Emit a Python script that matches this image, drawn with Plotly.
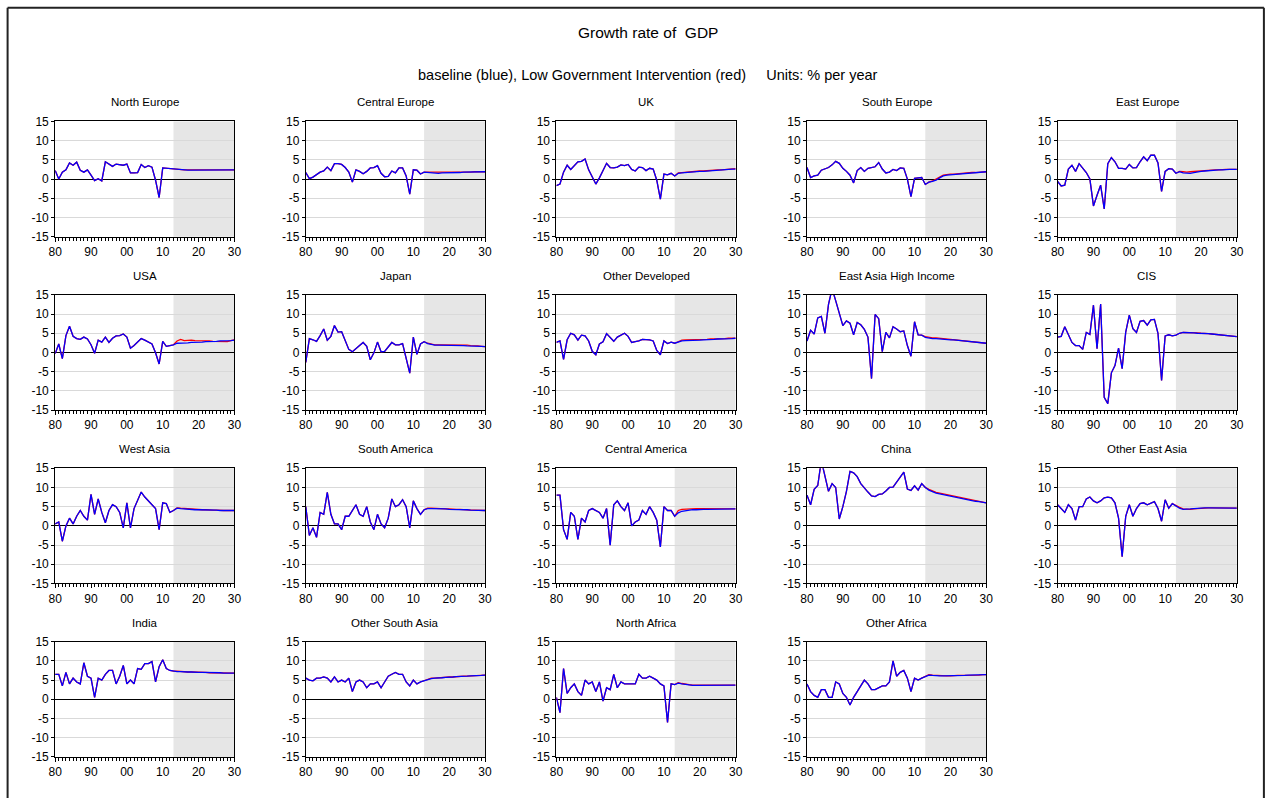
import plotly.graph_objects as go

# ---------------------------------------------------------------------------
# Annual GDP growth, % per year. History 1980-2012, projections 2013-2030.
# ---------------------------------------------------------------------------
years_hist = list(range(1980, 2013))
years_proj = list(range(2013, 2031))

decade_ticks = [1980, 1990, 2000, 2010, 2020, 2030]
decade_labels = ["80", "90", "00", "10", "20", "30"]
value_ticks = [-15, -10, -5, 0, 5, 10, 15]
value_labels = ["-15", "-10", "-5", "0", "5", "10", "15"]

north_europe_hist = [2.2, 0.0, 1.8, 2.4, 4.2, 3.6, 4.4, 2.3, 1.8, 2.4, 1.0, -0.4, 0.1, -0.5, 4.5, 3.9, 3.3,
                     3.9, 3.7, 3.6, 3.9, 1.6, 1.6, 1.7, 3.8, 3.0, 3.5, 3.1, -0.3, -4.8, 2.9, 2.8, 2.7]
north_europe_base = [2.7, 2.5, 2.4, 2.3, 2.3, 2.3, 2.3, 2.3, 2.3, 2.3, 2.4, 2.4, 2.4, 2.4, 2.4, 2.4, 2.4, 2.4]
north_europe_low = [2.7, 2.6, 2.5, 2.4, 2.4, 2.4, 2.4, 2.4, 2.4, 2.4, 2.4, 2.4, 2.4, 2.4, 2.4, 2.4, 2.4, 2.4]

central_europe_hist = [1.7, 0.1, 0.5, 1.2, 1.8, 2.1, 3.1, 2.2, 4.0, 4.0, 3.8, 3.0, 1.8, -0.8, 2.4, 2.0, 1.4,
                       2.0, 2.9, 3.0, 3.5, 1.5, 0.6, 0.7, 2.1, 1.6, 2.9, 2.9, 0.8, -3.9, 2.4, 2.3, 1.3]
central_europe_base = [1.8, 1.7, 1.6, 1.5, 1.5, 1.6, 1.6, 1.6, 1.7, 1.7, 1.7, 1.8, 1.8, 1.8, 1.8, 1.9, 1.9, 1.9]
central_europe_low = [1.8, 1.8, 1.8, 1.7, 1.7, 1.7, 1.7, 1.7, 1.7, 1.8, 1.8, 1.8, 1.8, 1.8, 1.9, 1.9, 1.9, 1.9]

uk_hist = [-1.7, -1.3, 1.8, 3.6, 2.5, 3.5, 4.5, 4.6, 5.2, 2.4, 0.6, -1.3, 0.3, 2.3, 4.1, 3.0, 2.9,
           3.1, 3.7, 3.5, 3.8, 2.5, 2.1, 3.1, 3.0, 2.2, 2.8, 2.6, -0.3, -5.2, 1.3, 1.1, 1.5]
uk_base = [0.8, 1.5, 1.6, 1.7, 1.8, 1.8, 1.9, 2.0, 2.0, 2.1, 2.2, 2.2, 2.3, 2.4, 2.4, 2.5, 2.6, 2.6]
uk_low = [0.8, 1.6, 1.7, 1.8, 1.9, 1.9, 2.0, 2.1, 2.1, 2.2, 2.3, 2.3, 2.4, 2.4, 2.5, 2.5, 2.6, 2.7]

south_europe_hist = [3.0, 0.4, 0.8, 1.0, 2.3, 2.6, 3.0, 3.7, 4.6, 4.1, 2.8, 2.0, 1.0, -1.0, 2.2, 3.0, 2.0,
                     2.8, 3.1, 3.2, 4.3, 2.6, 1.6, 1.8, 2.5, 2.2, 2.9, 2.8, 0.0, -4.6, 0.2, 0.3, 0.4]
south_europe_base = [-1.4, -0.8, -0.6, -0.3, 0.3, 0.8, 1.0, 1.1, 1.2, 1.3, 1.4, 1.5, 1.5, 1.6, 1.7, 1.7, 1.8, 1.9]
south_europe_low = [-1.4, -0.8, -0.5, -0.1, 0.5, 1.0, 1.2, 1.3, 1.3, 1.4, 1.5, 1.5, 1.6, 1.7, 1.7, 1.8, 1.8, 1.9]

east_europe_hist = [-0.6, -1.8, -1.6, 2.6, 3.6, 2.0, 4.0, 2.7, 1.7, 0.0, -7.0, -4.2, -1.6, -7.8, 4.0, 5.6, 4.5,
                    2.8, 2.8, 2.6, 3.8, 2.9, 3.0, 4.5, 5.8, 4.8, 6.2, 6.2, 4.2, -3.2, 2.0, 2.7, 2.6]
east_europe_base = [1.5, 1.9, 1.6, 1.5, 1.5, 1.7, 1.9, 2.0, 2.1, 2.2, 2.3, 2.3, 2.4, 2.4, 2.5, 2.5, 2.5, 2.5]
east_europe_low = [1.5, 2.0, 1.9, 1.8, 1.9, 2.0, 2.1, 2.2, 2.3, 2.3, 2.4, 2.4, 2.4, 2.5, 2.5, 2.5, 2.5, 2.5]

usa_hist = [-0.3, 2.2, -1.6, 4.4, 6.8, 4.2, 3.6, 3.4, 4.0, 3.5, 2.0, -0.2, 3.2, 2.7, 4.0, 2.6, 3.7,
            4.3, 4.4, 4.8, 4.0, 1.1, 1.8, 2.7, 3.6, 3.2, 2.7, 2.2, -0.1, -3.0, 2.9, 1.6, 1.8]
usa_base = [2.0, 2.4, 2.4, 2.5, 2.5, 2.6, 2.6, 2.7, 2.7, 2.8, 2.8, 2.9, 2.9, 3.0, 3.0, 3.0, 3.1, 3.2]
usa_low = [2.0, 3.0, 3.4, 3.1, 3.2, 3.2, 3.1, 3.1, 3.0, 3.0, 3.0, 2.9, 2.9, 2.9, 2.9, 2.8, 3.1, 3.3]

japan_hist = [-2.6, 3.6, 3.3, 2.9, 4.4, 6.1, 3.2, 4.2, 7.0, 5.3, 5.4, 3.2, 0.8, 0.2, 0.9, 1.8, 2.6,
              1.6, -1.9, -0.1, 2.7, 0.2, 0.3, 1.6, 2.6, 2.0, 2.0, 2.3, -1.2, -5.4, 4.0, -0.5, 2.2]
japan_base = [2.8, 2.3, 2.0, 1.9, 1.9, 1.9, 1.9, 1.9, 1.9, 1.8, 1.8, 1.8, 1.7, 1.7, 1.7, 1.6, 1.6, 1.5]
japan_low = [2.8, 2.4, 2.1, 2.0, 2.0, 2.0, 2.0, 2.0, 2.0, 1.9, 1.9, 1.9, 1.9, 1.8, 1.8, 1.7, 1.6, 1.5]

other_developed_hist = [2.6, 3.0, -1.8, 3.3, 5.0, 4.6, 3.2, 4.5, 4.3, 3.0, 0.3, -0.6, 2.2, 2.8, 4.9, 3.8, 2.9,
                        4.0, 4.6, 5.0, 4.2, 2.6, 2.8, 3.0, 3.4, 3.3, 3.3, 3.0, 0.5, -0.6, 3.0, 2.3, 2.7]
other_developed_base = [2.4, 2.8, 3.0, 3.1, 3.1, 3.1, 3.2, 3.2, 3.3, 3.3, 3.4, 3.4, 3.5, 3.5, 3.6, 3.6, 3.6, 3.7]
other_developed_low = [2.4, 2.9, 3.2, 3.3, 3.3, 3.3, 3.3, 3.4, 3.4, 3.4, 3.5, 3.5, 3.5, 3.6, 3.6, 3.7, 3.7, 3.7]

east_asia_hi_hist = [3.0, 5.8, 4.8, 9.0, 9.4, 5.0, 12.5, 16.6, 13.5, 10.5, 7.0, 8.2, 7.6, 4.6, 7.8, 7.2, 6.0,
                     4.0, -6.8, 9.9, 8.8, 0.2, 5.2, 3.8, 6.7, 6.1, 5.4, 5.6, 1.8, -1.0, 8.0, 4.6, 4.5]
east_asia_hi_base = [3.9, 3.7, 3.6, 3.6, 3.5, 3.5, 3.4, 3.3, 3.3, 3.2, 3.1, 3.0, 2.9, 2.8, 2.7, 2.6, 2.5, 2.4]
east_asia_hi_low = [4.1, 3.9, 3.8, 3.8, 3.7, 3.7, 3.6, 3.5, 3.4, 3.3, 3.2, 3.1, 3.0, 2.9, 2.8, 2.7, 2.5, 2.4]

cis_hist = [4.0, 4.2, 6.7, 4.6, 2.6, 1.8, 1.8, 0.8, 5.2, 4.7, 12.3, 1.0, 12.6, -11.7, -13.3, -5.3, -3.4,
            1.1, -4.2, 5.3, 9.7, 6.2, 5.2, 8.1, 8.3, 7.1, 8.5, 8.6, 5.0, -7.3, 4.3, 4.6, 4.3]
cis_base = [4.5, 5.0, 5.2, 5.2, 5.1, 5.1, 5.0, 5.0, 4.9, 4.9, 4.8, 4.7, 4.6, 4.5, 4.4, 4.3, 4.2, 4.1]
cis_low = [4.5, 5.0, 5.2, 5.2, 5.2, 5.1, 5.1, 5.0, 5.0, 4.9, 4.8, 4.7, 4.6, 4.5, 4.4, 4.3, 4.2, 4.1]

west_asia_hist = [0.5, 1.0, -4.0, 0.0, 2.0, 0.5, 2.5, 4.0, 2.5, 1.5, 8.2, 3.0, 7.0, 3.5, 0.8, 4.0, 5.5,
                  5.0, 3.5, -0.5, 6.0, -0.5, 4.5, 6.5, 8.8, 7.5, 6.5, 5.5, 4.5, -1.0, 6.0, 5.8, 3.5]
west_asia_base = [4.0, 4.6, 4.5, 4.4, 4.3, 4.3, 4.2, 4.2, 4.2, 4.1, 4.1, 4.1, 4.1, 4.0, 4.0, 4.0, 4.0, 4.0]
west_asia_low = [4.0, 4.7, 4.6, 4.5, 4.4, 4.3, 4.3, 4.2, 4.2, 4.2, 4.1, 4.1, 4.1, 4.0, 4.0, 4.0, 4.0, 4.0]

south_america_hist = [5.0, -2.5, -0.5, -3.0, 3.5, 3.0, 8.7, 3.0, 0.5, 0.5, -1.0, 2.5, 2.5, 4.0, 5.5, 3.0, 2.5,
                      5.0, 1.0, -1.0, 3.0, 0.5, -0.5, 2.0, 7.0, 5.0, 5.5, 6.8, 5.0, -0.5, 6.5, 4.5, 3.0]
south_america_base = [4.2, 4.5, 4.5, 4.5, 4.4, 4.4, 4.4, 4.3, 4.3, 4.3, 4.2, 4.2, 4.2, 4.1, 4.1, 4.1, 4.0, 4.0]
south_america_low = [4.2, 4.6, 4.6, 4.5, 4.5, 4.4, 4.4, 4.4, 4.3, 4.3, 4.3, 4.2, 4.2, 4.1, 4.1, 4.1, 4.0, 4.0]

central_america_hist = [8.0, 8.0, -1.0, -3.5, 3.5, 2.5, -3.5, 2.0, 1.0, 4.0, 4.5, 4.0, 3.5, 2.0, 4.5, -5.0, 5.5,
                        6.5, 5.0, 4.0, 6.0, 0.0, 1.0, 1.5, 4.0, 3.0, 5.0, 3.5, 1.5, -5.5, 5.0, 4.0, 4.0]
central_america_base = [2.5, 3.4, 3.8, 4.0, 4.1, 4.2, 4.2, 4.3, 4.3, 4.3, 4.3, 4.4, 4.4, 4.4, 4.4, 4.4, 4.4, 4.4]
central_america_low = [2.5, 4.0, 4.3, 4.4, 4.4, 4.5, 4.5, 4.5, 4.5, 4.5, 4.5, 4.5, 4.5, 4.4, 4.4, 4.4, 4.4, 4.4]

china_hist = [8.0, 5.5, 9.5, 10.5, 17.0, 13.0, 9.0, 11.0, 10.0, 1.8, 5.0, 9.0, 14.2, 13.8, 12.8, 11.0, 9.8,
              8.8, 7.8, 7.6, 8.2, 8.3, 9.1, 10.0, 10.1, 11.3, 12.5, 14.0, 9.6, 9.2, 10.4, 9.3, 11.0]
china_base = [10.0, 9.3, 8.8, 8.5, 8.3, 8.1, 7.9, 7.7, 7.5, 7.3, 7.1, 6.9, 6.7, 6.6, 6.4, 6.3, 6.1, 6.0]
china_low = [10.0, 9.5, 9.0, 8.7, 8.5, 8.3, 8.1, 7.9, 7.7, 7.5, 7.3, 7.1, 6.9, 6.7, 6.5, 6.3, 6.2, 6.0]

other_east_asia_hist = [5.5, 4.5, 3.5, 5.5, 4.5, 1.5, 5.0, 5.0, 7.0, 7.5, 6.5, 6.0, 6.5, 7.3, 7.5, 7.3, 6.0,
                        2.0, -8.0, 2.5, 5.5, 2.5, 4.5, 5.8, 6.0, 5.5, 5.8, 6.3, 4.5, 1.2, 6.8, 4.6, 5.8]
other_east_asia_base = [5.2, 4.6, 4.3, 4.3, 4.4, 4.5, 4.6, 4.7, 4.7, 4.7, 4.7, 4.7, 4.7, 4.7, 4.7, 4.6, 4.6, 4.6]
other_east_asia_low = [5.2, 4.8, 4.4, 4.3, 4.3, 4.4, 4.5, 4.6, 4.7, 4.7, 4.7, 4.7, 4.7, 4.7, 4.7, 4.6, 4.6, 4.6]

india_hist = [6.5, 6.5, 3.5, 7.0, 4.0, 5.5, 4.5, 4.0, 9.5, 6.0, 5.5, 0.5, 5.5, 5.0, 6.5, 7.5, 7.5,
              4.0, 6.0, 8.8, 4.0, 5.0, 4.0, 8.0, 7.8, 9.3, 9.3, 9.8, 4.5, 8.5, 10.3, 8.0, 7.5]
india_base = [7.3, 7.2, 7.2, 7.1, 7.1, 7.1, 7.0, 7.0, 7.0, 7.0, 6.9, 6.9, 6.9, 6.9, 6.8, 6.8, 6.8, 6.8]
india_low = [7.3, 7.3, 7.2, 7.2, 7.1, 7.1, 7.1, 7.0, 7.0, 7.0, 6.9, 6.9, 6.9, 6.9, 6.8, 6.8, 6.8, 6.8]

other_south_asia_hist = [5.5, 5.0, 4.8, 5.5, 5.5, 5.8, 5.5, 4.5, 5.8, 4.5, 5.0, 4.5, 5.5, 2.0, 4.5, 5.0, 4.5,
                         3.0, 4.0, 4.0, 4.5, 3.0, 4.5, 6.0, 6.5, 7.0, 6.5, 6.5, 4.5, 3.5, 5.0, 4.0, 4.5]
other_south_asia_base = [4.8, 5.2, 5.4, 5.5, 5.5, 5.6, 5.7, 5.7, 5.8, 5.9, 5.9, 6.0, 6.0, 6.1, 6.1, 6.2, 6.2, 6.3]
other_south_asia_low = [4.8, 5.3, 5.5, 5.5, 5.6, 5.7, 5.7, 5.8, 5.8, 5.9, 5.9, 6.0, 6.0, 6.1, 6.1, 6.2, 6.2, 6.3]

north_africa_hist = [0.5, -3.5, 8.0, 1.5, 3.0, 4.0, 2.0, 1.0, 5.0, 4.0, 4.5, 2.0, 4.5, -0.5, 3.0, 2.5, 6.5,
                     3.0, 4.5, 4.0, 4.0, 4.0, 4.0, 6.5, 5.5, 5.5, 6.0, 5.5, 5.0, 4.0, 3.5, -6.0, 4.0]
north_africa_base = [3.8, 4.2, 4.0, 3.8, 3.7, 3.6, 3.6, 3.6, 3.6, 3.6, 3.6, 3.6, 3.7, 3.7, 3.7, 3.7, 3.7, 3.7]
north_africa_low = [3.8, 4.3, 4.1, 3.9, 3.8, 3.7, 3.7, 3.6, 3.6, 3.6, 3.6, 3.6, 3.7, 3.7, 3.7, 3.7, 3.7, 3.7]

other_africa_hist = [4.0, 2.0, 1.0, 0.5, 2.5, 2.5, 0.5, 0.5, 4.5, 4.0, 1.5, 0.5, -1.5, 0.5, 2.0, 3.5, 5.0,
                     4.0, 2.5, 2.5, 3.0, 3.5, 3.5, 4.5, 10.0, 6.0, 7.0, 7.5, 5.5, 2.0, 5.5, 5.0, 5.5]
other_africa_base = [6.0, 6.3, 6.2, 6.1, 6.1, 6.1, 6.1, 6.1, 6.2, 6.2, 6.2, 6.2, 6.3, 6.3, 6.3, 6.3, 6.4, 6.4]
other_africa_low = [6.0, 6.4, 6.3, 6.2, 6.2, 6.1, 6.1, 6.1, 6.2, 6.2, 6.2, 6.2, 6.3, 6.3, 6.3, 6.3, 6.4, 6.4]

regions = [
    ("North Europe", north_europe_hist, north_europe_base, north_europe_low),
    ("Central Europe", central_europe_hist, central_europe_base, central_europe_low),
    ("UK", uk_hist, uk_base, uk_low),
    ("South Europe", south_europe_hist, south_europe_base, south_europe_low),
    ("East Europe", east_europe_hist, east_europe_base, east_europe_low),
    ("USA", usa_hist, usa_base, usa_low),
    ("Japan", japan_hist, japan_base, japan_low),
    ("Other Developed", other_developed_hist, other_developed_base, other_developed_low),
    ("East Asia High Income", east_asia_hi_hist, east_asia_hi_base, east_asia_hi_low),
    ("CIS", cis_hist, cis_base, cis_low),
    ("West Asia", west_asia_hist, west_asia_base, west_asia_low),
    ("South America", south_america_hist, south_america_base, south_america_low),
    ("Central America", central_america_hist, central_america_base, central_america_low),
    ("China", china_hist, china_base, china_low),
    ("Other East Asia", other_east_asia_hist, other_east_asia_base, other_east_asia_low),
    ("India", india_hist, india_base, india_low),
    ("Other South Asia", other_south_asia_hist, other_south_asia_base, other_south_asia_low),
    ("North Africa", north_africa_hist, north_africa_base, north_africa_low),
    ("Other Africa", other_africa_hist, other_africa_base, other_africa_low),
]

# ---------------------------------------------------------------------------
# Page geometry. Layout positions are given in screen pixels of the final
# view; the helpers convert them to figure paper fractions, allowing for the
# 8 px page-body margin and the view scale of the page.
# ---------------------------------------------------------------------------
W, H = 1271, 806
BODY = 8
SX, SY = 1271 / 1287, 798 / 814
PANEL_LEFT, PANEL_STEP_X, PANEL_W = 56.0, 250.25, 179.0
PANEL_TOP, PANEL_STEP_Y, PANEL_H = 122.0, 173.0, 115.0
FONT = "Liberation Sans, Arial, sans-serif"


def px_x(p):
    return (p / SX - BODY) / W


def px_y(p):
    return 1 - (p / SY - BODY) / H


fig = go.Figure()
layout = dict(
    width=W, height=H,
    margin=dict(l=0, r=0, t=0, b=0),
    paper_bgcolor="white", plot_bgcolor="white",
    showlegend=False,
    font=dict(family=FONT, color="black", size=12),
)
shapes = []
annotations = []

years = years_hist + years_proj
for i, (name, hist, base, low) in enumerate(regions):
    row, col = divmod(i, 5)
    n = "" if i == 0 else str(i + 1)
    left = PANEL_LEFT + col * PANEL_STEP_X
    top = PANEL_TOP + row * PANEL_STEP_Y

    layout["xaxis" + n] = dict(
        domain=[px_x(left), px_x(left + PANEL_W)],
        anchor="y" + n,
        range=[1980, 2030],
        tickmode="array", tickvals=decade_ticks, ticktext=decade_labels,
        ticks="outside", ticklen=4, tickcolor="black", tickwidth=1,
        minor=dict(ticks="outside", ticklen=3, tickcolor="black", dtick=1, tick0=1980, showgrid=False),
        showline=True, linecolor="black", linewidth=1, mirror=True,
        showgrid=False, zeroline=False,
        tickfont=dict(size=12, family=FONT),
        fixedrange=True,
    )
    layout["yaxis" + n] = dict(
        domain=[px_y(top + PANEL_H), px_y(top)],
        anchor="x" + n,
        range=[-15, 15],
        tickmode="array", tickvals=value_ticks, ticktext=value_labels,
        ticks="outside", ticklen=3, tickcolor="black", tickwidth=1,
        showline=True, linecolor="black", linewidth=1, mirror=True,
        showgrid=True, gridcolor="#d9d9d9", gridwidth=1,
        zeroline=True, zerolinecolor="black", zerolinewidth=1,
        tickfont=dict(size=12, family=FONT),
        fixedrange=True,
    )

    # projection period shading
    shapes.append(dict(
        type="rect", xref="x" + n, yref="y" + n + " domain",
        x0=2013, x1=2030, y0=0, y1=1,
        fillcolor="#e6e6e6", line=dict(width=0), layer="below",
    ))

    fig.add_trace(go.Scatter(
        x=years, y=hist + low, mode="lines",
        line=dict(color="#ff0000", width=1.3),
        xaxis="x" + n, yaxis="y" + n, hoverinfo="skip",
    ))
    fig.add_trace(go.Scatter(
        x=years, y=hist + base, mode="lines",
        line=dict(color="#0000ff", width=1.3),
        xaxis="x" + n, yaxis="y" + n, hoverinfo="skip",
    ))

    annotations.append(dict(
        text=name, xref="paper", yref="paper",
        x=px_x(left + PANEL_W / 2), y=px_y(top - 19),
        xanchor="center", yanchor="middle", showarrow=False,
        font=dict(size=11.5, family=FONT),
    ))

annotations.append(dict(
    text="Growth rate of\u00a0 GDP", xref="paper", yref="paper",
    x=px_x(648), y=px_y(33), xanchor="center", yanchor="middle", showarrow=False,
    font=dict(size=15.5, family=FONT),
))
annotations.append(dict(
    text="baseline (blue), Low Government Intervention (red)\u00a0\u00a0\u00a0\u00a0 Units: % per year",
    xref="paper", yref="paper",
    x=px_x(648), y=px_y(76), xanchor="center", yanchor="middle", showarrow=False,
    font=dict(size=14.5, family=FONT),
))

# page frame: left, top and right edges (the bottom edge runs off the page)
frame = dict(type="line", xref="paper", yref="paper",
             line=dict(color="#222222", width=2), layer="above")
shapes.append(dict(frame, x0=px_x(8.5), x1=px_x(8.5), y0=0, y1=px_y(8.5)))
shapes.append(dict(frame, x0=px_x(8.5), x1=px_x(1263), y0=px_y(8.5), y1=px_y(8.5)))
shapes.append(dict(frame, x0=px_x(1263), x1=px_x(1263), y0=0, y1=px_y(8.5)))

layout["shapes"] = shapes
layout["annotations"] = annotations
fig.update_layout(**layout)

fig.write_html("out.html")
